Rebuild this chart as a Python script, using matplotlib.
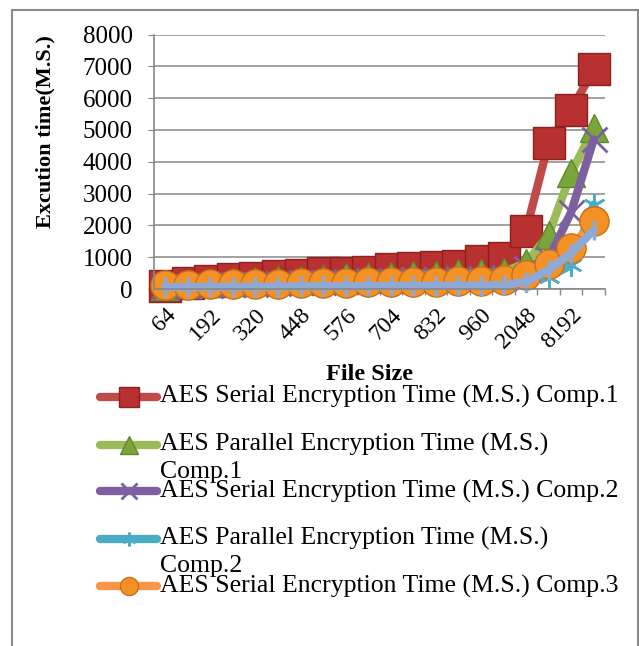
import matplotlib
matplotlib.use("Agg")
import matplotlib.pyplot as plt
from matplotlib.lines import Line2D
from matplotlib.patches import Rectangle

plt.rcParams["font.family"] = ["Liberation Serif", "DejaVu Serif"]

# file sizes (categories)
sizes = ["64", "128", "192", "256", "320", "384", "448", "512", "576", "640",
         "704", "768", "832", "896", "960", "1024", "2048", "4096", "8192", "16384"]

# execution times (M.S.)
serial_c1 = [100, 180, 250, 310, 360, 400, 450, 490, 510, 520,
             620, 670, 690, 720, 890, 960, 1830, 4600, 5630, 6900]
parallel_c1 = [100, 160, 190, 230, 240, 280, 290, 330, 370, 390,
               420, 450, 450, 490, 500, 530, 820, 1700, 3650, 5050]
serial_c2 = [80, 110, 130, 150, 170, 190, 210, 230, 250, 270,
             290, 310, 330, 350, 360, 380, 650, 950, 2420, 4700]
parallel_c2 = [40, 50, 60, 70, 75, 80, 85, 90, 95, 100,
               105, 110, 115, 120, 130, 150, 250, 380, 750, 2650]
serial_c3 = [130, 140, 150, 160, 165, 170, 180, 190, 200, 210,
             215, 220, 230, 240, 250, 270, 450, 780, 1300, 2150]
parallel_c3 = [60, 60, 65, 70, 70, 75, 80, 80, 85, 90,
               90, 95, 100, 105, 110, 120, 230, 600, 1130, 1850]

labels = ["AES Serial Encryption Time (M.S.) Comp.1",
          "AES Parallel Encryption Time (M.S.)\nComp.1",
          "AES Serial Encryption Time (M.S.) Comp.2",
          "AES Parallel Encryption Time (M.S.)\nComp.2",
          "AES Serial Encryption Time (M.S.) Comp.3"]

W, H = 639, 646
fig = plt.figure(figsize=(W / 100, H / 100), dpi=100)
fx = lambda px: px / W
fy = lambda py: 1 - py / H

# outer frame
fig.add_artist(Rectangle((fx(12), fy(700)), fx(638) - fx(12), fy(10) - fy(700),
                         transform=fig.transFigure, fill=False, ec="#8a8a8a", lw=1.5))

ax = fig.add_axes([fx(154), fy(289), fx(605) - fx(154), fy(34.5) - fy(289)])
x = list(range(len(sizes)))

styles = [
    dict(color="#BE4B48", marker="s", ms=23, mfc="#B8302F", mec="#8C1F1F", mew=1),
    dict(color="#9BBB59", marker="^", ms=20, mfc="#7AA53A", mec="#5E8A2A", mew=1),
    dict(color="#7D60A0", marker="x", ms=18, mew=2),
    dict(color="#4BACC6", marker=(6, 2, 0), ms=16, mew=1.8),
    dict(color="#F79646", marker="o", ms=21, mfc="#F39125", mec="#C8701A", mew=1),
    dict(color="#8EA9D6", marker="|", ms=14, mew=2.5),
]
series = [serial_c1, parallel_c1, serial_c2, parallel_c2, serial_c3, parallel_c3]
for ys, st in zip(series, styles):
    ax.plot(x, ys, lw=6, clip_on=False, solid_capstyle="round", **st)

ax.set_xlim(-0.5, 19.5)
ax.set_ylim(0, 8000)
ax.set_yticks(range(0, 8001, 1000))
ax.tick_params(axis="y", labelsize=18, length=4.3, color="#878787", pad=11)
ax.set_xticks(x)
ax.set_xticklabels([s if i % 2 == 0 else "" for i, s in enumerate(sizes)],
                   rotation=45, ha="right", va="top", rotation_mode="anchor", fontsize=17)
ax.tick_params(axis="x", which="major", length=0, pad=11)
ax.set_xticks([i - 0.5 for i in range(len(sizes) + 1)], minor=True)
ax.tick_params(axis="x", which="minor", length=4.3, color="#878787", width=1)
ax.yaxis.grid(True, color="#878787", lw=1.1)
ax.set_axisbelow(True)
for side in ["top", "right"]:
    ax.spines[side].set_visible(False)
for side in ["left", "bottom"]:
    ax.spines[side].set_color("#878787")
    ax.spines[side].set_linewidth(1.2)

fig.text(fx(45), fy(132), "Excution time(M.S.)", rotation=90, ha="center", va="center",
         fontsize=16, fontweight="bold")
fig.text(fx(369), fy(375), "File Size", ha="center", va="center", fontsize=17.5, fontweight="bold")

# legend drawn by hand (rows overlap as in the original)
rows = [396.5, 444.7, 491, 538.7, 586]
for lab, yy, st in zip(labels, rows, styles[:5]):
    st2 = dict(st)
    st2["ms"] = st["ms"] * 0.62
    fig.add_artist(Line2D([fx(100), fx(157)], [fy(yy), fy(yy)], transform=fig.transFigure,
                          lw=6, solid_capstyle="round", color=st["color"]))
    fig.add_artist(Line2D([fx(128.5)], [fy(yy)], transform=fig.transFigure, lw=0,
                          **{k: v for k, v in st2.items() if k != "color"},
                          color=st["color"]))
    for k, line in enumerate(lab.split("\n")):
        fig.text(fx(160), fy(yy + 27.5 * k), line, ha="left", va="center", fontsize=18.5)

fig.savefig("out.png", dpi=100)
